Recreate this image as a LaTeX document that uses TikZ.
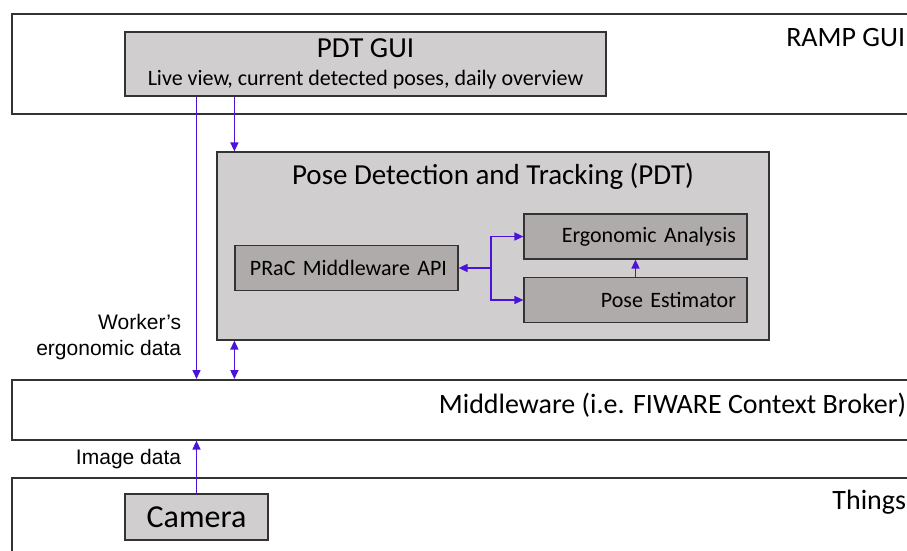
\documentclass[tikz,border=0pt]{standalone}
\usepackage{fontspec}
\setmainfont{Carlito}
\newfontfamily\labelfont{Liberation Sans}
\usetikzlibrary{arrows.meta}
\definecolor{rampblue}{HTML}{4B12D8}
\definecolor{boxlight}{HTML}{D0CECE}
\definecolor{boxdark}{HTML}{AFABAB}
\definecolor{edgegray}{HTML}{333333}
\tikzset{>={Triangle[length=9pt,width=8pt]}}

\begin{document}
\begin{tikzpicture}[x=1pt, y=-1pt, line width=1.2pt,
    band/.style={draw=edgegray, line width=1.6pt, fill=white, anchor=north west, minimum width=950pt, inner sep=0pt},
    tier/.style={draw=edgegray, fill=boxlight, inner sep=0pt},
    module/.style={draw=edgegray, fill=boxdark, minimum width=223pt, minimum height=45pt, text width=201pt, align=right, inner sep=11pt, font=\fontsize{22}{24}\selectfont},
    flow/.style={draw=rampblue, line width=1.5pt, ->},
    note/.style={font=\labelfont\fontsize{21}{26}\selectfont, align=right, anchor=east},
    layer/.style={anchor=east}]
    \useasboundingbox (0,0) rectangle (907,550);
    \clip (0,0) rectangle (907,550);
    % layers
    \node[band, minimum height=100pt] (ramp) at (11,13) {};
    \node[band, minimum height=60pt] (mw) at (11,379) {};
    \node[band, minimum height=120pt] (things) at (11,477) {};
    \node[layer, font=\fontsize{28}{30}\selectfont] (ramplbl) at (909,38) {RAMP GUI};
    \node[layer, font=\fontsize{28}{30}\selectfont] (mwlbl) at (910,405) {Middleware (i.e. FIWARE Context Broker)};
    \node[layer, font=\fontsize{28}{30}\selectfont] (thingslbl) at (910,502) {Things};
    % boxes
    \node[tier, minimum width=481pt, minimum height=64pt, align=center] (pdtgui) at (365.5,64)
      {{\fontsize{29}{30}\selectfont PDT GUI}\\[12pt]{\fontsize{22}{24}\selectfont Live view, current detected poses, daily overview}};
    \node[tier, minimum width=552pt, minimum height=188pt] (pdt) at (493,246) {};
    \node[font=\fontsize{29}{30}\selectfont] (pdtlbl) at (493,176) {Pose Detection and Tracking (PDT)};
    \node[module] (prac) at (346.5,268) {PRaC Middleware API};
    \node[module] (ergo) at (635.5,236.5) {Ergonomic Analysis};
    \node[module] (pose) at (635.5,300) {Pose Estimator};
    \node[tier, minimum width=143pt, minimum height=46pt, font=\fontsize{32}{34}\selectfont] (camera) at (196.5,517) {Camera};
    % connectors
    \coordinate (fork) at (491,268);
    \draw[flow] (fork) -- (prac.east);
    \draw[flow] (fork) |- (ergo.west);
    \draw[flow] (fork) |- (pose.west);
    \draw[flow] (pose) -- (ergo);
    \draw[flow] (pdtgui.south -| camera) -- (mw.north -| camera);
    \draw[flow] (pdtgui.south -| prac.west) -- (pdt.north -| prac.west);
    \draw[flow, <->] (pdt.south -| prac.west) -- (mw.north -| prac.west);
    \draw[flow] (camera) -- (mw.south -| camera);
    \node[note] (worker) at (185,337) {Worker’s\\ergonomic data};
    \node[note] (imgdata) at (185,459) {Image data};
  \end{tikzpicture}
\end{document}
